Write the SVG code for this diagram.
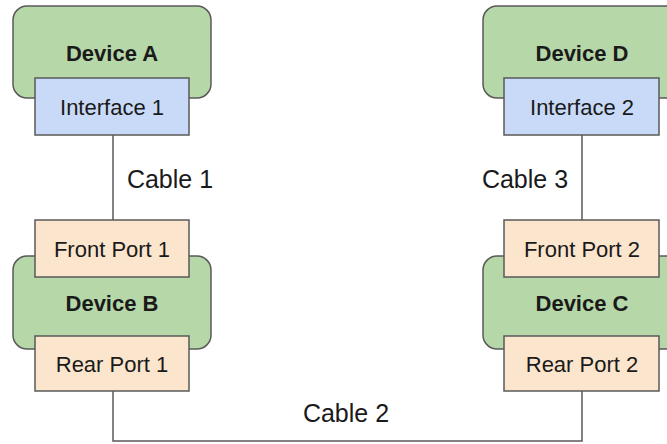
<svg xmlns="http://www.w3.org/2000/svg" width="667" height="444" viewBox="0 0 667 444">
<style>
.dev{fill:#b6d7a8;stroke:#595959;stroke-width:1.5}
.intf{fill:#c9daf8;stroke:#595959;stroke-width:1.5}
.port{fill:#fce5cd;stroke:#595959;stroke-width:1.5}
.wire{fill:none;stroke:#595959;stroke-width:1.5}
text{font-family:"Liberation Sans",Arial,sans-serif;fill:#1a1a1a;text-anchor:middle}
.dt{font-weight:bold;font-size:22px}
.pt{font-size:22px}
.ct{font-size:25px}
</style>
<rect width="667" height="444" fill="#ffffff"/>
<g id="connectors">
<path class="wire" d="M113 135V220"/>
<path class="wire" d="M113 391V441H582V391"/>
<path class="wire" d="M582 135V220"/>
<text class="ct" x="170" y="188">Cable 1</text>
<text class="ct" x="346" y="422">Cable 2</text>
<text class="ct" x="525" y="188">Cable 3</text>
</g>
<g id="device-a">
<rect class="dev" x="13" y="6" width="198" height="92" rx="14"/>
<text class="dt" x="112" y="61">Device A</text>
</g>
<g id="interface-1">
<rect class="intf" x="35" y="78" width="154" height="57"/>
<text class="pt" x="112" y="115">Interface 1</text>
</g>
<g id="device-b">
<rect class="dev" x="13" y="256" width="198" height="93" rx="14"/>
<text class="dt" x="112" y="311">Device B</text>
</g>
<g id="front-port-1">
<rect class="port" x="35" y="220" width="154" height="57"/>
<text class="pt" x="112" y="257">Front Port 1</text>
</g>
<g id="rear-port-1">
<rect class="port" x="35" y="336" width="154" height="55"/>
<text class="pt" x="112" y="372">Rear Port 1</text>
</g>
<g id="device-d">
<rect class="dev" x="483" y="6" width="198" height="92" rx="14"/>
<text class="dt" x="582" y="61">Device D</text>
</g>
<g id="interface-2">
<rect class="intf" x="504" y="78" width="155" height="57"/>
<text class="pt" x="582" y="115">Interface 2</text>
</g>
<g id="device-c">
<rect class="dev" x="483" y="256" width="198" height="93" rx="14"/>
<text class="dt" x="582" y="311">Device C</text>
</g>
<g id="front-port-2">
<rect class="port" x="504" y="220" width="155" height="57"/>
<text class="pt" x="582" y="257">Front Port 2</text>
</g>
<g id="rear-port-2">
<rect class="port" x="504" y="336" width="155" height="55"/>
<text class="pt" x="582" y="372">Rear Port 2</text>
</g>
</svg>
